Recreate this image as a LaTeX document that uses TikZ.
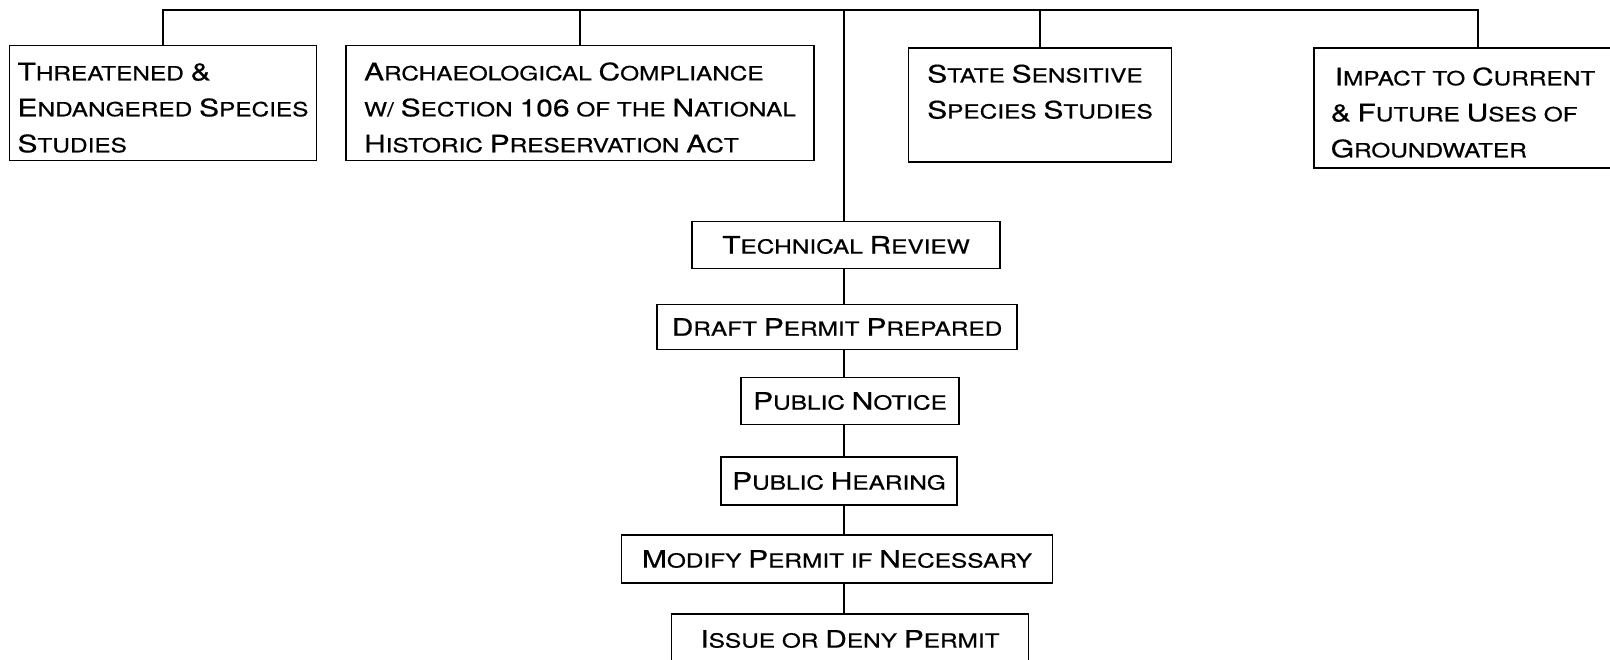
\documentclass[tikz,border=0pt]{standalone}
\usepackage{fontspec}
\setmainfont{TeX Gyre Heros}[FakeStretch=1.25,FakeBold=0.6]
\usepackage{tikz}

\newcommand\bigsz{\fontsize{24}{36}\selectfont}
\newcommand\sw[2]{{\bigsz#1}#2}

\tikzset{
	topbox/.style={draw, line width=1.2pt, rectangle, align=left, inner sep=0pt,
		font=\fontsize{19.5}{36}\selectfont, execute at begin node={\rule{0pt}{99pt}}},
	stepbox/.style={draw, line width=1.2pt, rectangle, inner sep=0pt,
		font=\fontsize{19.5}{36}\selectfont},
	link/.style={line width=1.2pt}
}

\begin{document}
\begin{tikzpicture}[x=1pt,y=-1pt]
			\useasboundingbox (0,0) rectangle (1610,660);
			\node [topbox, minimum width=307, minimum height=115] (threat) at (163,103) {\sw{T}{HREATENED} {\bigsz\&}\\ \sw{E}{NDANGERED} \sw{S}{PECIES}\\ \sw{S}{TUDIES}};
			\node [topbox, minimum width=468, minimum height=115] (arch) at (580,103) {\sw{A}{RCHAEOLOGICAL} \sw{C}{OMPLIANCE}\\ W/ \sw{S}{ECTION} \sw{106}{} OF THE \sw{N}{ATIONAL}\\ \sw{H}{ISTORIC} \sw{P}{RESERVATION} \sw{A}{CT}};
			\node [topbox, minimum width=263, minimum height=114] (state) at (1040,105) {\sw{S}{TATE} \sw{S}{ENSITIVE}\\ \sw{S}{PECIES} \sw{S}{TUDIES}\\ \mbox{}};
			\node [topbox, minimum width=298, minimum height=120] (impact) at (1463,108) {\hspace{4pt}\sw{I}{MPACT} TO \sw{C}{URRENT}\\ {\bigsz\&} \sw{F}{UTURE} \sw{U}{SES} OF\\ \sw{G}{ROUNDWATER}};
			\node [stepbox, minimum width=308, minimum height=47] (tech) at (846,245) {\sw{T}{ECHNICAL} \sw{R}{EVIEW}};
			\node [stepbox, minimum width=360, minimum height=45] (draft) at (837,327) {\sw{D}{RAFT} \sw{P}{ERMIT} \sw{P}{REPARED}};
			\node [stepbox, minimum width=218, minimum height=47] (notice) at (850,401) {\sw{P}{UBLIC} \sw{N}{OTICE}};
			\node [stepbox, minimum width=236, minimum height=48] (hearing) at (839,481) {\sw{P}{UBLIC} \sw{H}{EARING}};
			\node [stepbox, minimum width=431, minimum height=48] (modify) at (837,559) {\sw{M}{ODIFY} \sw{P}{ERMIT} IF \sw{N}{ECESSARY}};
			\node [stepbox, minimum width=357, minimum height=50] (issue) at (850,639) {\sw{I}{SSUE} OR \sw{D}{ENY} \sw{P}{ERMIT}};
			\coordinate (spine) at (844,10);
			\coordinate (imptop) at (1478,10);
			\draw [link] (threat.north) |- (imptop) -- (imptop |- impact.north);
			\foreach \n in {arch,state}
				\draw [link] (\n.north) -- (\n.north |- spine);
			\draw [link] (spine) -- (tech.north -| spine);
			\draw [link] (tech.south -| spine) -- (draft.north -| spine);
			\draw [link] (draft.south -| spine) -- (notice.north -| spine);
			\draw [link] (notice.south -| spine) -- (hearing.north -| spine);
			\draw [link] (hearing.south -| spine) -- (modify.north -| spine);
			\draw [link] (modify.south -| spine) -- (issue.north -| spine);
		\end{tikzpicture}
\end{document}
